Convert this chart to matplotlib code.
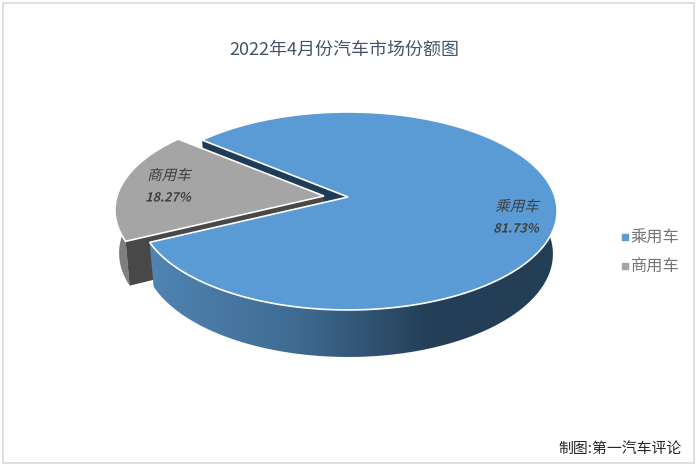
import numpy as np
import matplotlib
matplotlib.use('Agg')
import matplotlib.pyplot as plt
from matplotlib.colors import LinearSegmentedColormap
from matplotlib.lines import Line2D
from matplotlib.patches import Polygon, Rectangle
from matplotlib.patheffects import AbstractPathEffect
from matplotlib.transforms import Affine2D

plt.rcParams['font.family'] = ['Noto Sans CJK SC', 'DejaVu Sans']

title = '2022年4月份汽车市场份额图'
credit = '制图:第一汽车评论'
categories = ['乘用车', '商用车']
shares = [81.73, 18.27]
colors = ['#5B9BD5', '#A5A5A5']


class Slant(AbstractPathEffect):
    # the CJK fonts have no italic, so shear the glyphs
    def __init__(self, deg=14):
        super().__init__()
        self.deg = deg

    def draw_path(self, renderer, gc, tpath, affine, rgbFace=None):
        renderer.draw_path(gc, tpath, Affine2D().skew_deg(self.deg, 0) + affine, rgbFace)


def rim(apex, t):
    # projected circle, near side is a bit larger (pixel coords, y down)
    t = np.radians(t)
    d = 1 + 0.1413 * np.sin(t)
    return np.column_stack([apex[0] + 207 * np.cos(t) / d, apex[1] - 97 * np.sin(t) / d])


def drop(apex, pts):
    # same points on the lower rim of the disc
    return np.column_stack([apex[0] + 0.98 * (pts[:, 0] - apex[0]),
                            apex[1] + 42.5 + 1.04 * (pts[:, 1] - apex[1])])


fig = plt.figure(figsize=(6.98, 4.67), dpi=100)
ax = fig.add_axes([0, 0, 1, 1])
ax.axis('off')

ax.add_patch(Rectangle((2.5, 2.5), 691.5, 460.5, fc='white', ec='#D9D9D9', lw=1.2))

blue_apex = (348, 197)
gray_apex = (324, 196)
start = 206
blue_end = start + shares[0] * 3.6
gray_end = blue_end + shares[1] * 3.6

# blue slice cut face, seen through the gap
p = rim(blue_apex, [blue_end])
face = np.array([p[0], blue_apex])
ax.add_patch(Polygon(np.vstack([face, drop(blue_apex, face)[::-1]]), fc='#1F3B57', ec='none'))

# gray slice, sides first
arc = rim(gray_apex, np.linspace(blue_end, gray_end, 60))
ax.add_patch(Polygon(np.vstack([arc, drop(gray_apex, arc)[::-1]]), fc='#7F7F7F', ec='none'))
face = np.array([gray_apex, arc[-1]])
ax.add_patch(Polygon(np.vstack([face, drop(gray_apex, face)[::-1]]), fc='#484848', ec='none'))
ax.add_patch(Polygon(np.vstack([[gray_apex], arc]), fc=colors[1], ec='white', lw=1.2))

# blue slice side with the horizontal shading
arc = rim(blue_apex, np.linspace(start, 370, 200))
side = Polygon(np.vstack([arc, drop(blue_apex, arc)[::-1]]), fc='none', ec='none')
ax.add_patch(side)
cmap = LinearSegmentedColormap.from_list('side', [(0, '#5084B2'), (0.36, '#3F6B92'),
                                                  (0.68, '#243F57'), (1, '#233E55')])
im = ax.imshow(np.linspace(0, 1, 256)[None, :], cmap=cmap, aspect='auto', vmin=0, vmax=1,
               extent=(150, 560, 360, 200), zorder=1)
im.set_clip_path(side)

arc = rim(blue_apex, np.linspace(start, blue_end, 300))
ax.add_patch(Polygon(np.vstack([[blue_apex], arc]), fc=colors[0], ec='white', lw=1.2))

ax.set_xlim(0, 698)
ax.set_ylim(467, 0)

ax.text(344, 50, title, ha='center', va='center', fontsize=13, color='#44546A')
ax.text(682, 449, credit, ha='right', va='center', fontsize=10.7, color='#262626')

label_pos = [(517, 207), (169, 176)]
for name, val, (x, y) in zip(categories, shares, label_pos):
    ax.text(x, y, name, ha='center', va='center', fontsize=10.5, color='#404040',
            path_effects=[Slant()])
    ax.text(x - 1, y + 22, f'{val:.2f}%', ha='center', va='center', fontsize=9,
            fontweight='bold', color='#404040', path_effects=[Slant()])

handles = [Line2D([], [], ls='none', marker='s', ms=5, color=c) for c in colors]
ax.legend(handles, categories, loc='center left', bbox_to_anchor=(610 / 698, 1 - 253 / 467),
          frameon=False, fontsize=11.7, labelcolor='#767676', handlelength=0.8, handletextpad=-0.06,
          labelspacing=0.76, borderpad=0)

fig.savefig('out.png', dpi=100)
